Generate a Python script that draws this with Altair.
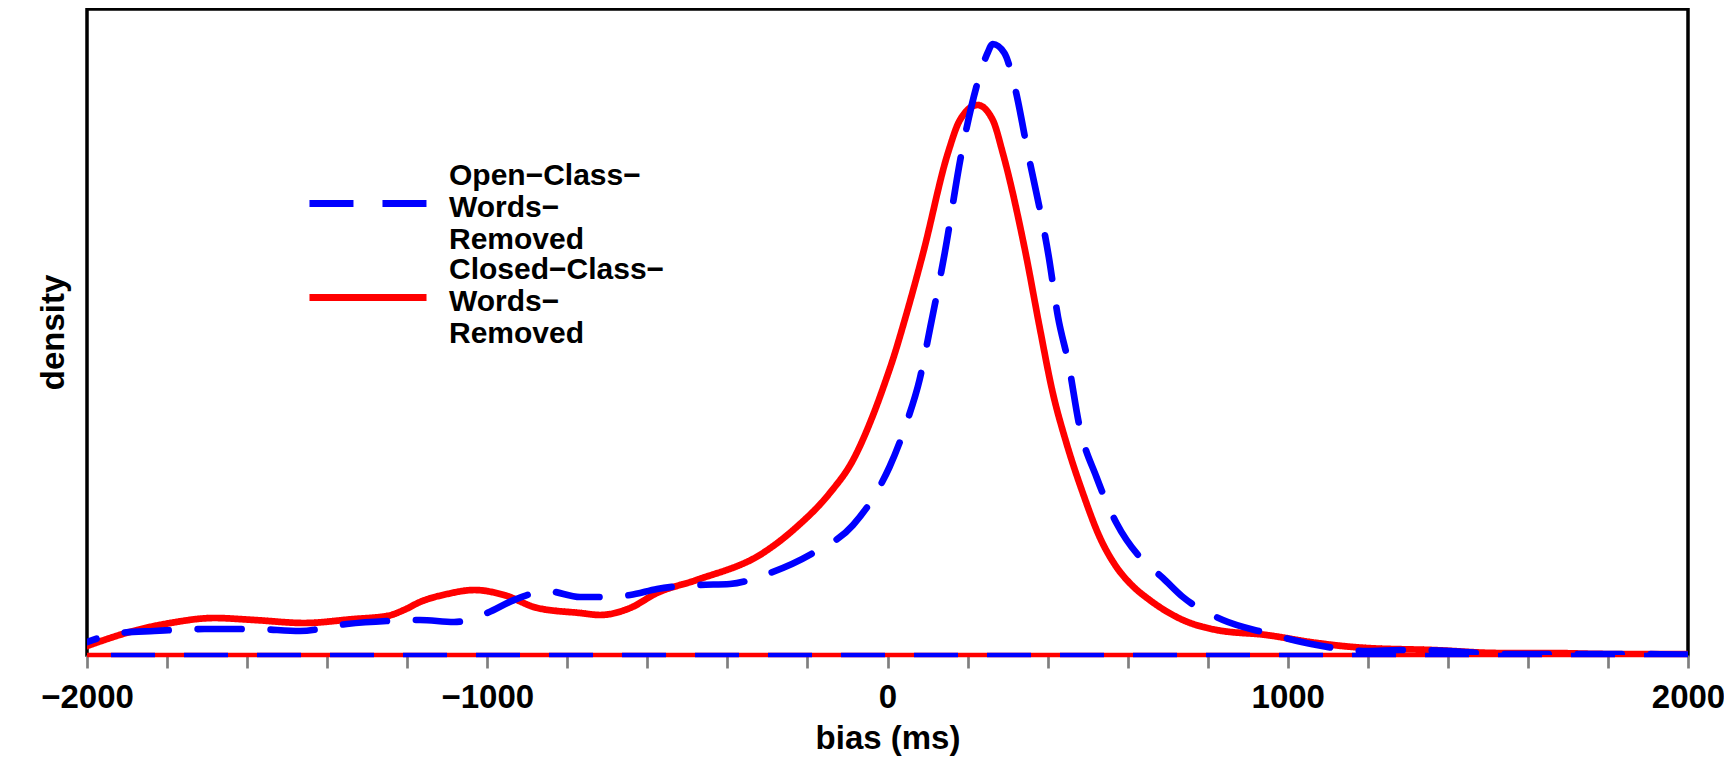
import altair as alt
import pandas as pd

# ---- data (x in ms, y = density in arbitrary units) ----
series_names = ["Open−Class−Words−Removed", "Closed−Class−Words−Removed"]
open_lines = ["Open−Class−", "Words−", "Removed"]
closed_lines = ["Closed−Class−", "Words−", "Removed"]
series_colors = ["#0000ff", "#ff0000"]

blue_x = [-2000, -1917, -1832, -1707, -1582, -1468, -1351, -1251, -1168, -1083,
          -1001, -933, -851, -768, -718, -643, -576, -477, -394, -294,
          -186, -86, -20, 5, 50, 80, 107, 143, 185, 222, 250,
          263, 292, 318, 351, 403, 426, 452, 480, 522, 572,
          637, 688, 738, 838, 947, 1072, 1197, 1280, 1404, 1529,
          1654, 1800, 2000]
blue_y = [13, 22, 24, 26, 26, 24, 31, 34, 35, 33,
          42, 55, 64, 58, 58, 60, 66, 70, 71, 82,
          102, 130, 168, 188, 235, 275, 328, 402, 502, 568, 602,
          611, 602, 568, 502, 398, 338, 292, 228, 178, 132,
          95, 77, 58, 35, 22, 10, 4, 5, 4, 1,
          1, 1, 0.5]

red_x = [-2000, -1875, -1792, -1682, -1582, -1457, -1333, -1250, -1208, -1168, -1100,
         -1032, -958, -875, -768, -718, -643, -576, -477, -311, -227,
         -144, -86, -36, -4, 13, 43, 89, 151, 181, 225, 263,
         288, 346, 380, 413, 447, 488, 530, 572, 610, 655,
         738, 822, 947, 1072, 1197, 1362, 1529, 1654, 1800, 2000]
red_y = [9, 25, 32, 37, 35, 32, 36, 39, 45, 53, 61,
         65, 60, 47, 42, 40, 47, 62, 75, 102, 128,
         162, 195, 240, 275, 295, 335, 402, 502, 535, 550, 535,
         502, 400, 328, 262, 212, 162, 118, 88, 70, 55,
         35, 25, 20, 12, 7, 5, 2, 2, 1, 1]

tick_values = list(range(-2000, 2001, 200))
x_domain = [-2000, 2000]
y_domain = [0, 646]

FONT = "Liberation Sans"

blue_df = pd.DataFrame({"x": blue_x, "y": blue_y, "series": series_names[0]})
red_df = pd.DataFrame({"x": red_x, "y": red_y, "series": series_names[1]})
blue_base = pd.DataFrame({"series": [series_names[0]], "y": [0]})
red_base = pd.DataFrame({"series": [series_names[1]], "y": [0]})


def js_list(lines):
    return "[" + ", ".join("'" + s + "'" for s in lines) + "]"


label_expr = ("datum.label == '" + series_names[0] + "' ? " + js_list(open_lines)
              + " : " + js_list(closed_lines))

# legend key: a horizontal stroke, drawn level with the middle line of each label
legend_symbol = "M-5.32,2.5H5.32"

legend = alt.Legend(
    title=None,
    orient="none",
    legendX=266,
    legendY=152,
    symbolType=legend_symbol,
    symbolSize=484,
    symbolStrokeWidth=7,
    labelExpr=label_expr,
    labelFont=FONT,
    labelFontSize=30,
    labelFontWeight="bold",
    labelColor="black",
    labelLimit=600,
    labelOffset=66,
    rowPadding=0,
    padding=0,
)

color = alt.Color("series:N",
                  scale=alt.Scale(domain=series_names, range=series_colors),
                  legend=legend)
dash = alt.StrokeDash("series:N",
                      scale=alt.Scale(domain=series_names, range=[[44, 29], [1, 0]]),
                      legend=legend)

x_enc = alt.X(
    "x:Q",
    scale=alt.Scale(domain=x_domain, nice=False, zero=False),
    axis=alt.Axis(
        values=tick_values,
        format="d",
        labelExpr="datum.value % 1000 == 0 ? datum.label : ''",
        domain=False,
        grid=False,
        tickColor="#7f7f7f",
        tickWidth=2.7,
        tickSize=13,
        labelPadding=13,
        labelFont=FONT,
        labelFontSize=33,
        labelFontWeight="bold",
        labelColor="black",
        labelFlush=False,
        labelOverlap=False,
        title="bias (ms)",
        titleFont=FONT,
        titleFontSize=33,
        titleFontWeight="bold",
        titleColor="black",
        titleY=93,
        titleBaseline="alphabetic",
    ),
)

y_enc = alt.Y(
    "y:Q",
    scale=alt.Scale(domain=y_domain, nice=False, zero=False),
    axis=alt.Axis(
        labels=False,
        ticks=False,
        domain=False,
        grid=False,
        title="density",
        titleFont=FONT,
        titleFontSize=33,
        titleFontWeight="bold",
        titleColor="black",
        titleAngle=270,
        titleX=-24,
        titleBaseline="alphabetic",
    ),
)

y_rule = alt.Y("y:Q", scale=alt.Scale(domain=y_domain, nice=False, zero=False))


def curve(df):
    return alt.Chart(df).mark_line(
        strokeWidth=6.7, interpolate="monotone", strokeCap="round",
        strokeJoin="round", strokeDashOffset=34, clip=True
    ).encode(x=x_enc, y=y_enc, color=color, strokeDash=dash)


def base(df):
    return alt.Chart(df).mark_rule(strokeWidth=4.5).encode(
        y=y_rule, color=color, strokeDash=dash)


chart = alt.layer(
    curve(red_df), base(red_base), curve(blue_df), base(blue_base)
).properties(
    width=1601,
    height=646,
    padding={"left": 79, "top": 1, "right": 36, "bottom": 102},
    autosize=alt.AutoSizeParams(type="none"),
    background="white",
).configure_view(
    stroke="black",
    strokeWidth=3.5,
)

chart.save("out.html", embed_options={"renderer": "svg", "actions": False})
